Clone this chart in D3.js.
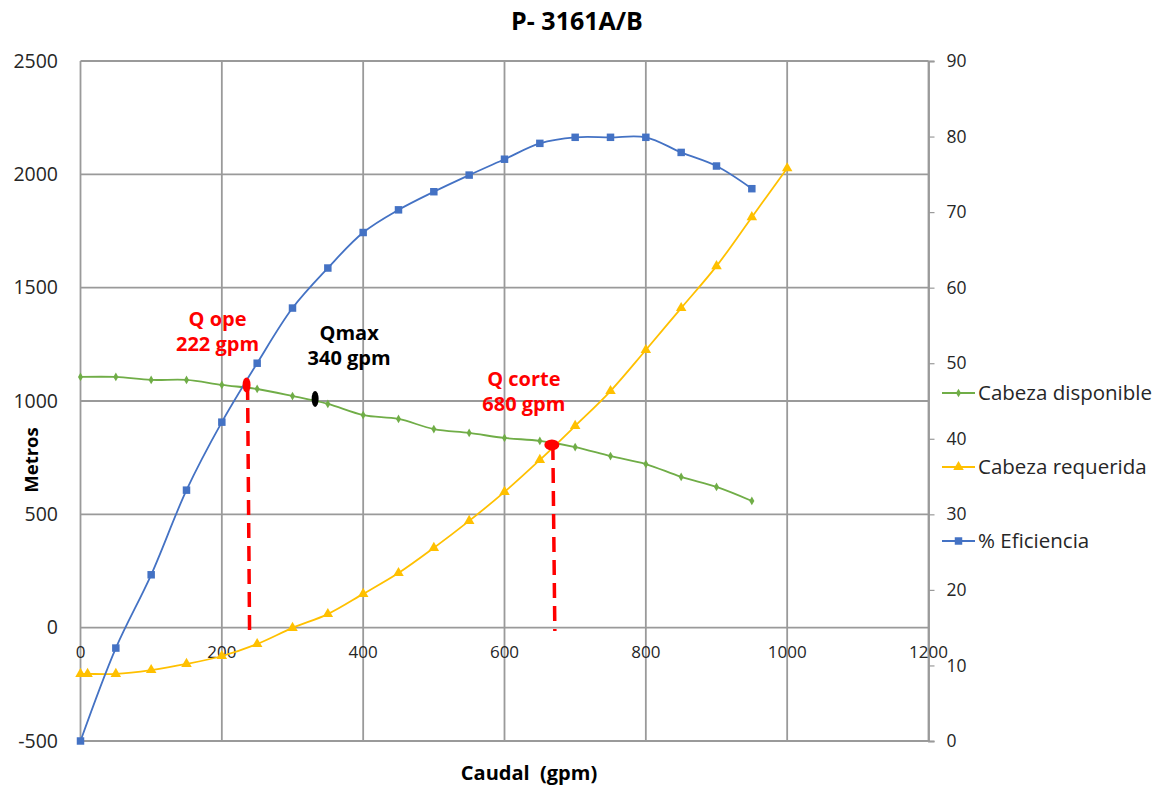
<!DOCTYPE html>
<html>
<head>
<meta charset="utf-8">
<title>P- 3161A/B</title>
<style>
  body { margin: 0; background: #fff; }
  svg text { font-family: "Open Sans", Lato, sans-serif; }
</style>
</head>
<body>
<svg></svg>
<script src="https://d3js.org/d3.v7.min.js"></script>
<script>
// datos
var caudal = [0, 50, 100, 150, 200, 250, 300, 350, 400, 450, 500, 550, 600, 650, 700, 750, 800, 850, 900, 950];
var cabezaDisponible = [1106, 1106, 1093, 1093, 1071, 1053, 1022, 987, 938, 921, 876, 859, 837, 824, 797, 757, 722, 665, 621, 559];
var eficiencia = [0, 12.3, 22.0, 33.2, 42.2, 50.0, 57.3, 62.6, 67.3, 70.3, 72.7, 74.9, 77.0, 79.1, 79.9, 79.9, 79.9, 77.9, 76.1, 73.1];

var caudalReq = [0, 10, 50, 100, 150, 200, 250, 300, 350, 400, 450, 500, 550, 600, 650, 700, 750, 800, 850, 900, 950, 1000];
var cabezaRequerida = [-204, -204, -204, -187, -160, -125, -72, -1, 60, 149, 241, 352, 471, 599, 740, 890, 1044, 1225, 1410, 1595, 1811, 2027];

var ticksX = [0, 200, 400, 600, 800, 1000, 1200];
var ticksIzq = [-500, 0, 500, 1000, 1500, 2000, 2500];
var ticksDer = [0, 10, 20, 30, 40, 50, 60, 70, 80, 90];

var leyenda = ["Cabeza disponible", "Cabeza requerida", "% Eficiencia"];

// puntos anotados: caudal, cabeza (m), textos
var anotaciones = [
  {lineas: ["Q ope", "222 gpm"], q: 235, h: 1071, color: "#ff0000", dx: -29, rx: 4, ry: 7.5, corte: true},
  {lineas: ["Qmax", "340 gpm"], q: 332, h: 1009, color: "#000000", dx: 34, rx: 3.5, ry: 8, corte: false},
  {lineas: ["Q corte", "680 gpm"], q: 667, h: 806, color: "#ff0000", dx: -28, rx: 7.5, ry: 5.5, corte: true}
];

var width = 1166;
var height = 785;

var svg = d3.select("svg")
  .attr("width", width)
  .attr("height", height);

var x = d3.scaleLinear().domain([0, 1200]).range([80.5, 928.5]);
var yIzq = d3.scaleLinear().domain([-500, 2500]).range([741, 61]);
var yDer = d3.scaleLinear().domain([0, 90]).range([741, 61]);

var gris = "#9a9a9a";
var texto = "#262626";

// cuadricula
svg.append("g").selectAll("line")
  .data(ticksX)
  .enter().append("line")
  .attr("x1", function(d) { return x(d); })
  .attr("x2", function(d) { return x(d); })
  .attr("y1", yIzq(2500))
  .attr("y2", yIzq(-500))
  .attr("stroke", gris)
  .attr("stroke-width", 1.8);

svg.append("g").selectAll("line")
  .data(ticksIzq)
  .enter().append("line")
  .attr("x1", x(0))
  .attr("x2", x(1200))
  .attr("y1", function(d) { return yIzq(d); })
  .attr("y2", function(d) { return yIzq(d); })
  .attr("stroke", gris)
  .attr("stroke-width", 1.8);

// eje derecho
var ejeDer = d3.axisRight(yDer).tickValues(ticksDer).tickSize(6).tickPadding(12);
var gDer = svg.append("g")
  .attr("transform", "translate(" + x(1200) + ",0)")
  .call(ejeDer);
gDer.select(".domain").attr("stroke", gris).attr("stroke-width", 1.8);
gDer.selectAll(".tick line").attr("stroke", gris).attr("stroke-width", 1.2);
gDer.selectAll(".tick text")
  .attr("fill", texto)
  .style("font-family", "'Open Sans', sans-serif")
  .style("font-size", "17.5px");

// etiquetas eje izquierdo
svg.append("g").selectAll("text")
  .data(ticksIzq)
  .enter().append("text")
  .attr("x", 58)
  .attr("y", function(d) { return yIzq(d); })
  .attr("dy", "0.35em")
  .attr("text-anchor", "end")
  .attr("fill", texto)
  .style("font-size", "19.5px")
  .text(function(d) { return d; });

// etiquetas eje x (en la linea del cero)
svg.append("g").selectAll("text")
  .data(ticksX)
  .enter().append("text")
  .attr("x", function(d) { return x(d); })
  .attr("y", yIzq(0) + 24)
  .attr("dy", "0.35em")
  .attr("text-anchor", "middle")
  .attr("fill", texto)
  .style("font-size", "17px")
  .text(function(d) { return d; });

// titulos
svg.append("text")
  .attr("x", 577)
  .attr("y", 30)
  .attr("text-anchor", "middle")
  .attr("fill", "#000")
  .style("font-size", "25px")
  .style("font-weight", "bold")
  .text("P- 3161A/B");

svg.append("text")
  .attr("transform", "translate(38,460) rotate(-90)")
  .attr("text-anchor", "middle")
  .attr("fill", "#000")
  .style("font-size", "18.5px")
  .style("font-weight", "bold")
  .text("Metros");

svg.append("text")
  .attr("x", 529)
  .attr("y", 780)
  .attr("text-anchor", "middle")
  .attr("fill", "#000")
  .style("font-size", "20px")
  .style("font-weight", "bold")
  .style("white-space", "pre")
  .text("Caudal  (gpm)");

// series
var series = [
  {nombre: leyenda[0], xs: caudal, ys: cabezaDisponible, escala: yIzq, color: "#70ad47", simbolo: d3.symbolDiamond, tam: 22},
  {nombre: leyenda[1], xs: caudalReq, ys: cabezaRequerida, escala: yIzq, color: "#ffc000", simbolo: d3.symbolTriangle, tam: 48},
  {nombre: leyenda[2], xs: caudal, ys: eficiencia, escala: yDer, color: "#4472c4", simbolo: d3.symbolSquare, tam: 56}
];

series.forEach(function(s) {
  var pts = s.xs.map(function(q, i) { return [q, s.ys[i]]; });
  var linea = d3.line()
    .x(function(d) { return x(d[0]); })
    .y(function(d) { return s.escala(d[1]); })
    .curve(d3.curveCatmullRom.alpha(0.5));
  svg.append("path")
    .datum(pts)
    .attr("d", linea)
    .attr("fill", "none")
    .attr("stroke", s.color)
    .attr("stroke-width", 1.8);
  svg.append("g").selectAll("path")
    .data(pts)
    .enter().append("path")
    .attr("d", d3.symbol().type(s.simbolo).size(s.tam))
    .attr("transform", function(d) { return "translate(" + x(d[0]) + "," + s.escala(d[1]) + ")"; })
    .attr("fill", s.color);
});

// leyenda
var yLeyenda = [393, 467, 541];
series.forEach(function(s, i) {
  var g = svg.append("g").attr("transform", "translate(942," + yLeyenda[i] + ")");
  g.append("line").attr("x1", 0).attr("x2", 33).attr("stroke", s.color).attr("stroke-width", 1.8);
  g.append("path")
    .attr("d", d3.symbol().type(s.simbolo).size(s.tam))
    .attr("transform", "translate(16.5,0)")
    .attr("fill", s.color);
  g.append("text")
    .attr("x", 36)
    .attr("dy", "0.35em")
    .attr("fill", texto)
    .style("font-size", "20.5px")
    .text(s.nombre);
});

// anotaciones
anotaciones.forEach(function(a) {
  var px = x(a.q);
  var py = yIzq(a.h);
  if (a.corte) {
    svg.append("line")
      .attr("x1", px + 1)
      .attr("x2", px + 3)
      .attr("y1", py)
      .attr("y2", yIzq(-15))
      .attr("stroke", a.color)
      .attr("stroke-width", 3.5)
      .attr("stroke-dasharray", "15,8");
  }
  svg.append("ellipse")
    .attr("cx", px)
    .attr("cy", py)
    .attr("rx", a.rx)
    .attr("ry", a.ry)
    .attr("fill", a.color);
  a.lineas.forEach(function(t, j) {
    svg.append("text")
      .attr("x", px + a.dx)
      .attr("y", py - 59 + j * 25)
      .attr("text-anchor", "middle")
      .attr("fill", a.color)
      .style("font-size", "20px")
      .style("font-weight", "bold")
      .text(t);
  });
});
</script>
</body>
</html>
